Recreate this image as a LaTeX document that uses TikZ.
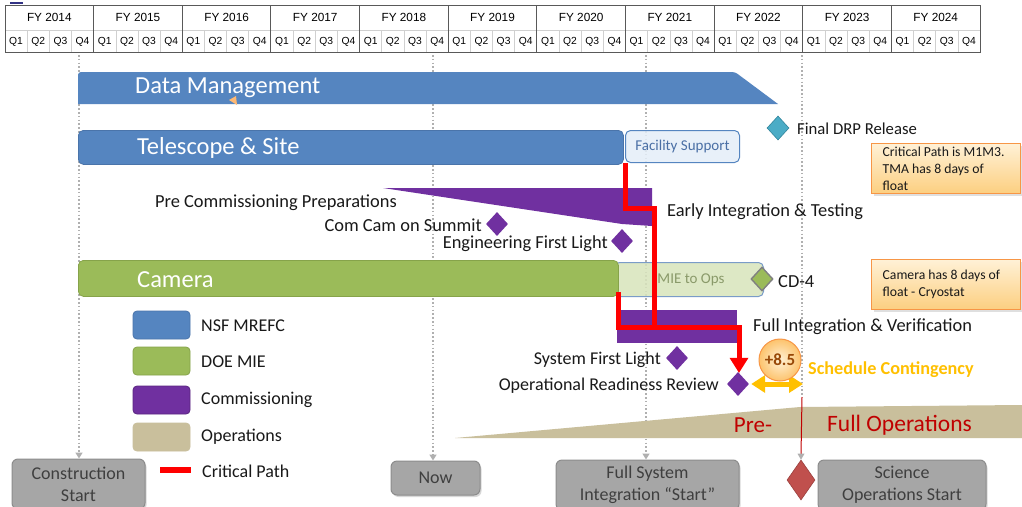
\documentclass[tikz,border=0pt]{standalone}
\usepackage{fontspec}
\setmainfont{Carlito}
\newfontfamily\arialf{Liberation Sans}
\usetikzlibrary{shapes.geometric,arrows.meta,shadows,calc}
\definecolor{nsfblue}{HTML}{5585C0}
\definecolor{nsfborder}{HTML}{4A74AA}
\definecolor{doegreen}{HTML}{9BBB59}
\definecolor{doeborder}{HTML}{86A34A}
\definecolor{compurple}{HTML}{7030A0}
\definecolor{opstan}{HTML}{C9BF9C}
\definecolor{fsfill}{HTML}{E4EEF8}
\definecolor{fstext}{HTML}{4A6FA5}
\definecolor{miefill}{HTML}{D8E4BC}
\definecolor{mieborder}{HTML}{7A9CC8}
\definecolor{mietext}{HTML}{8A9A6A}
\definecolor{drpteal}{HTML}{4BACC6}
\definecolor{drpborder}{HTML}{31859C}
\definecolor{notetop}{HTML}{FFF1D6}
\definecolor{notebot}{HTML}{FCCF80}
\definecolor{noteborder}{HTML}{F79646}
\definecolor{gold}{HTML}{FFC000}
\definecolor{brownt}{HTML}{984807}
\definecolor{darkred}{HTML}{C00000}
\definecolor{sosred}{HTML}{C0504D}
\definecolor{boxgray}{HTML}{A6A6A6}
\definecolor{boxborder}{HTML}{8C8C8C}
\definecolor{boxtext}{HTML}{3F3F3F}
\definecolor{dotgray}{HTML}{B0B0B0}
\definecolor{hdrline}{HTML}{595959}
\definecolor{qline}{HTML}{D0D0D0}
\begin{document}
\begin{tikzpicture}[x=1pt,y=-1pt,
  fytxt/.style={font=\arialf\fontsize{11.8}{13}\selectfont, inner sep=0pt},
  qtxt/.style={font=\arialf\fontsize{10.3}{12}\selectfont, inner sep=0pt},
  bartxt/.style={font=\fontsize{24.5}{28}\selectfont, text=white, anchor=west, inner sep=0pt},
  lbl/.style={font=\fontsize{18.4}{22}\selectfont, text=black!90, inner sep=0pt},
  legtxt/.style={font=\fontsize{18}{21}\selectfont, text=black!90, inner sep=0pt, anchor=west},
  legbox/.style={rounded corners=4pt, minimum width=57pt, minimum height=28pt, inner sep=0pt, line width=0.8pt},
  barbox/.style={rounded corners=5pt, inner sep=0pt, anchor=north west},
  mstone/.style={diamond, fill=compurple, minimum width=22pt, minimum height=24pt, inner sep=0pt},
  notebox/.style={rectangle, top color=notetop, bottom color=notebot, draw=noteborder, line width=1.3pt,
     anchor=north west, minimum width=149pt, minimum height=50pt, align=left,
     inner sep=0pt, font=\fontsize{13.7}{17}\selectfont, text=black!90,
     drop shadow={opacity=0.25, shadow xshift=2pt, shadow yshift=-2pt}},
  gbox/.style={rounded corners=6pt, fill=boxgray, draw=boxborder, line width=1pt, text=boxtext,
     font=\fontsize{18}{22}\selectfont, align=center, inner sep=0pt,
     drop shadow={opacity=0.3, shadow xshift=1.5pt, shadow yshift=-2pt}},
  dotline/.style={dotgray, line width=1.6pt, dash pattern=on 1.6pt off 2.2pt},
  dotarrow/.style={dotline, -{Triangle[width=7pt,length=6pt]}},
  critline/.style={red, line width=5pt},
]
\useasboundingbox (0,0) rectangle (1022,506);
\fill[white] (0,0) rectangle (1022,506);
\draw[blue!40!black!80, line width=1.8pt] (10,3) -- (23,3);

% ---------- header table ----------
\foreach \i in {0,...,10} {
  \pgfmathsetmacro\xa{5+\i*88.64}
  \pgfmathtruncatemacro\yr{2014+\i}
  \node[fytxt] (fy\yr) at (\xa+44.32,17.5) {FY \yr};
  \foreach \q in {1,...,4} {
    \node[qtxt] (q\yr-\q) at (\xa+\q*22.16-11.08,41.5) {Q\q};
  }
  \foreach \q in {1,2,3} {
    \draw[qline, line width=0.6pt] (\xa+\q*22.16,30) -- ++(0,22);
  }
}
\draw[qline, line width=0.6pt] (5,30) -- (980,30);
\foreach \i in {1,...,10} {
  \draw[hdrline, line width=1pt] (5+\i*88.64,5) -- (5+\i*88.64,52);
}
\draw[hdrline, line width=1pt] (5,5) rectangle (980,52);

% ---------- bottom milestone boxes ----------
\node[gbox, minimum width=133pt, minimum height=50pt] (cs) at (78.5,484) {Construction\\Start};
\node[gbox, minimum width=89pt, minimum height=34pt] (now) at (435.5,478) {Now};
\node[gbox, minimum width=183pt, minimum height=50pt] (fsi) at (647.5,485) {Full System\\Integration “Start”};
\node[gbox, minimum width=168pt, minimum height=50pt] (sos) at (902,485) {Science\\Operations Start};
\node[diamond, fill=sosred, draw=sosred!80!black, line width=0.6pt, minimum width=28pt, minimum height=40pt, inner sep=0pt] (sod) at (801,480) {};

% ---------- dotted time markers ----------
\coordinate (v1) at (79,55);
\coordinate (v2) at (433,55);
\coordinate (v3) at (646,55);
\coordinate (v4) at (802,55);
\coordinate (v4b) at (802,397);
\draw[dotarrow] (v1) -- (v1 |- cs.north);
\draw[dotarrow] (v2) -- (v2 |- now.north);
\draw[dotarrow] (v3) -- (v3 |- fsi.north);
\draw[dotline] (v4) -- (v4b);

% ---------- operations wedge ----------
\fill[opstan] (455,438) -- (800,407) -- (1022,405) -- (1022,438) -- cycle;
\node[font=\fontsize{23}{26}\selectfont, text=darkred, inner sep=0pt] (pre) at (753,425) {Pre-};
\node[font=\fontsize{23.5}{26}\selectfont, text=darkred, inner sep=0pt, anchor=west] (fullops) at (827,425) {Full Operations};
\draw[darkred, line width=1pt] (v4b) -- ($(sod.north)+(0,-5)$);
\draw[draw=none, fill=dotgray] ($(sod.north)+(-3.5,-6)$) -- ($(sod.north)+(3.5,-6)$) -- (sod.north) -- cycle;

% ---------- Data management ----------
\fill[nsfblue, rounded corners=3pt] (78,104) -- (78,72) -- (735,72) [sharp corners] -- (778,104) -- cycle;
\node[bartxt] (dm) at (135,88) {Data Management};
\fill[orange!55] (229,100) -- (236,96) -- (237,105) -- cycle;

% ---------- Telescope & Site ----------
\node[barbox, fill=fsfill, fill opacity=0.85, draw=nsfblue, line width=1pt, minimum width=114pt, minimum height=32pt,
  text opacity=1, font=\fontsize{15}{18}\selectfont, text=fstext] (fs) at (625,130) {Facility Support};
\node[barbox, fill=nsfblue, draw=nsfborder, line width=0.8pt, minimum width=545pt, minimum height=34pt] (ts) at (78,130) {};
\node[bartxt] (tstxt) at (137,148) {Telescope \& Site};
\node[diamond, fill=drpteal, draw=drpborder, line width=0.6pt, minimum width=22pt, minimum height=24pt, inner sep=0pt] (drp) at (778,128) {};
\node[lbl, anchor=west, font=\fontsize{16.7}{20}\selectfont] (drptxt) at (797,129) {Final DRP Release};

% ---------- notes ----------
\node[notebox] (note1) at (871,143) {\hspace*{10pt}\parbox[c][48pt][c]{137pt}{Critical Path is M1M3.\\TMA has 8 days of\\float}};
\node[notebox] (note2) at (871,259) {\hspace*{10pt}\parbox[c][46pt][c]{137pt}{Camera has 8 days of\\float - Cryostat}};

% ---------- pre-commissioning ----------
\fill[compurple] (383,188) -- (652,188) -- (652,226) -- (622,224) -- cycle;
\node[lbl, anchor=east] (pcp) at (397,203) {Pre Commissioning Preparations};
\node[mstone] (ccs) at (497,224) {};
\node[lbl, anchor=east] (ccstxt) at (482,225) {Com Cam on Summit};
\node[mstone] (efl) at (622,241) {};
\node[lbl, anchor=east] (efltxt) at (608,244) {Engineering First Light};
\node[lbl, anchor=west] (eit) at (667,212) {Early Integration \& Testing};

% ---------- Camera ----------
\node[barbox, fill=miefill, fill opacity=0.85, text opacity=1, draw=mieborder, line width=1pt, minimum width=149pt, minimum height=34pt,
  font=\fontsize{15}{18}\selectfont, text=mietext] (mie) at (614,262) {\hspace*{4pt}MIE to Ops};
\node[barbox, fill=doegreen, draw=doeborder, line width=0.8pt, minimum width=540pt, minimum height=36pt] (cam) at (78,260) {};
\node[bartxt] (camtxt) at (137,280) {Camera};
\node[diamond, fill=doegreen, draw=black!50, line width=1.4pt, minimum width=22pt, minimum height=24pt, inner sep=0pt] (cd4) at (762,279) {};
\node[lbl, anchor=west] (cd4txt) at (778,282) {CD-4};

% ---------- Full integration ----------
\node[fill=compurple, anchor=north west, minimum width=120pt, minimum height=33pt, inner sep=0pt] (fiv) at (617,310) {};
\node[lbl, anchor=west] (fivtxt) at (753,327) {Full Integration \& Verification};
\node[mstone] (sfl) at (677,358) {};
\node[lbl, anchor=east, font=\fontsize{18}{22}\selectfont] (sfltxt) at (661,360) {System First Light};
\node[mstone] (orr) at (738,384) {};
\node[lbl, anchor=east, font=\fontsize{18}{22}\selectfont] (orrtxt) at (719,386) {Operational Readiness Review};

% ---------- critical path ----------
\coordinate (c0) at (625,163);
\coordinate (c1) at (625,208);
\coordinate (c2) at (654,208);
\coordinate (c3) at (654,327);
\coordinate (c4) at (618,292);
\coordinate (c5) at (618,327);
\coordinate (c6) at (739,327);
\draw[critline] (c0) -- (c1) -- (c2) -- (c3);
\draw[critline, line join=miter] (c4) -- (c5) -- (c6) -- ($(orr.north)+(1,-12)$);
\fill[red] ($(orr.north)+(-8.5,-14)$) -- ($(orr.north)+(10.5,-14)$) -- ($(orr.north)+(1,1)$) -- cycle;

% ---------- schedule contingency ----------
\coordinate (sc) at (803,384);
\draw[gold, line width=5pt, {Triangle[width=17pt,length=14pt]}-{Triangle[width=17pt,length=14pt]}] ($(orr.east)+(2,0)$) -- (sc);
\node[circle, inner color=notetop, outer color=notebot!85!orange, draw=noteborder, line width=1pt, minimum size=42pt, inner sep=0pt,
  font=\bfseries\fontsize{17}{20}\selectfont, text=brownt] (cont) at (780,360) {+8.5};
\node[anchor=west, inner sep=0pt, font=\bfseries\fontsize{18.2}{21}\selectfont, text=gold] (sctxt) at (808,370) {Schedule Contingency};

% ---------- legend ----------
\node[legbox, fill=nsfblue, draw=nsfborder] (lg1) at (161.5,325) {};
\node[legtxt] (lg1t) at (201,326) {NSF MREFC};
\node[legbox, fill=doegreen, draw=doeborder] (lg2) at (161.5,361) {};
\node[legtxt] (lg2t) at (201,362) {DOE MIE};
\node[legbox, fill=compurple, draw=compurple!80!black] (lg3) at (161.5,400) {};
\node[legtxt] (lg3t) at (201,400) {Commissioning};
\node[legbox, fill=opstan, draw=opstan] (lg4) at (161.5,437) {};
\node[legtxt] (lg4t) at (201,437) {Operations};
\coordinate (lg5a) at (160,470);
\coordinate (lg5b) at (191,470);
\draw[red, line width=6pt] (lg5a) -- (lg5b);
\node[legtxt] (lg5t) at (202,471) {Critical Path};
\end{tikzpicture}
\end{document}
